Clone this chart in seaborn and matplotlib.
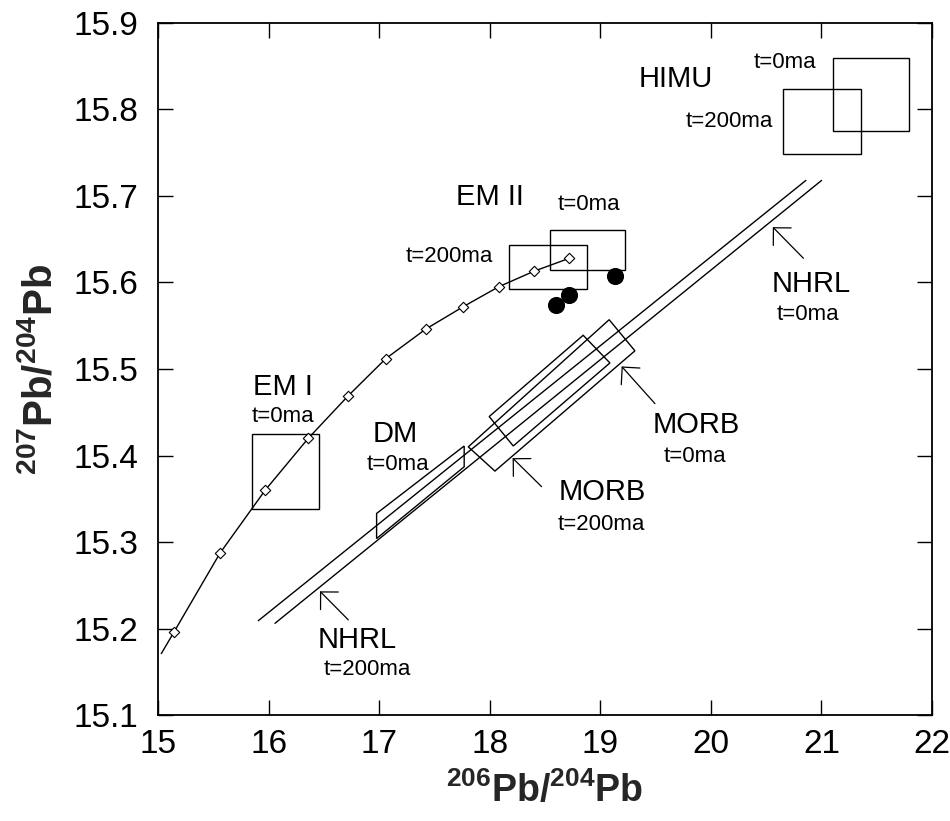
import matplotlib
matplotlib.use("Agg")
import matplotlib.pyplot as plt
import seaborn as sns
import numpy as np
import pandas as pd
from matplotlib.patches import Polygon

# ---------------- data ----------------
# mixing curve (line start + diamond markers)
curve_start_x = [15.03]
curve_start_y = [15.171]
marker_x = [15.145, 15.56, 15.97, 16.36, 16.72, 17.06, 17.42, 17.76, 18.08, 18.40, 18.72]
marker_y = [15.196, 15.287, 15.360, 15.420, 15.469, 15.512, 15.546, 15.572, 15.595, 15.613, 15.628]

# filled circles
dots_x = [18.60, 18.72, 19.13]
dots_y = [15.574, 15.585, 15.608]

# NHRL reference lines
nhrl0_x = [16.058, 21.001]
nhrl0_y = [15.206, 15.718]
nhrl200_x = [15.907, 20.859]
nhrl200_y = [15.209, 15.718]

# boxes: (x_min, x_max, y_min, y_max)
himu0 = [21.10, 21.79, 15.775, 15.859]
himu200 = [20.65, 21.36, 15.749, 15.824]
em2_0 = [18.544, 19.222, 15.615, 15.661]
em2_200 = [18.176, 18.881, 15.593, 15.643]
em1_0 = [15.847, 16.456, 15.338, 15.425]

# rotated fields (corner lists)
dm_x = [16.977, 17.769, 17.769, 16.977]
dm_y = [15.333, 15.411, 15.387, 15.304]
morbA_x = [17.995, 18.845, 19.087, 18.213]
morbA_y = [15.445, 15.539, 15.507, 15.411]
morbB_x = [17.806, 19.080, 19.313, 18.047]
morbB_y = [15.410, 15.557, 15.521, 15.382]

x_ticks = [15, 16, 17, 18, 19, 20, 21, 22]
y_ticks = [15.1, 15.2, 15.3, 15.4, 15.5, 15.6, 15.7, 15.8, 15.9]
y_tick_labels = ["15.1", "15.2", "15.3", "15.4", "15.5", "15.6", "15.7", "15.8", "15.9"]

# ---------------- style ----------------
sns.set_style("ticks")
plt.rcParams["font.family"] = ["Liberation Sans", "DejaVu Sans"]
plt.rcParams["mathtext.fontset"] = "custom"
plt.rcParams["mathtext.rm"] = "Liberation Sans"
plt.rcParams["mathtext.bf"] = "Liberation Sans:bold"

fig = plt.figure(figsize=(9.5, 8.21), dpi=100)
ax = fig.add_axes([0.1663, 0.1291, 0.8148, 0.8429])

K = "black"
LW = 1.0

# curve
cx = curve_start_x + marker_x
cy = curve_start_y + marker_y
sns.lineplot(x=cx, y=cy, ax=ax, color=K, lw=LW, sort=False, estimator=None)
sns.scatterplot(x=marker_x, y=marker_y, ax=ax, marker="D", s=28,
                facecolor="white", edgecolor=K, linewidth=0.8, zorder=3)

# filled dots
sns.scatterplot(x=dots_x, y=dots_y, ax=ax, s=130, color=K, edgecolor=K, zorder=3)

# NHRL lines
sns.lineplot(x=nhrl0_x, y=nhrl0_y, ax=ax, color=K, lw=LW, estimator=None)
sns.lineplot(x=nhrl200_x, y=nhrl200_y, ax=ax, color=K, lw=LW, estimator=None)

def box(b):
    x0, x1, y0, y1 = b
    ax.add_patch(Polygon([(x0, y0), (x1, y0), (x1, y1), (x0, y1)], closed=True,
                         fill=False, edgecolor=K, lw=LW))

for b in [himu0, himu200, em2_0, em2_200, em1_0]:
    box(b)

for px, py in [(dm_x, dm_y), (morbA_x, morbA_y), (morbB_x, morbB_y)]:
    ax.add_patch(Polygon(list(zip(px, py)), closed=True, fill=False, edgecolor=K, lw=LW))

# arrows
arrows = [
    ((20.837, 15.628), (20.560, 15.664)),
    ((16.721, 15.210), (16.465, 15.243)),
    ((18.469, 15.364), (18.207, 15.397)),
    ((19.494, 15.460), (19.193, 15.503)),
]
for tail, tip in arrows:
    ax.annotate("", xy=tip, xytext=tail,
                arrowprops=dict(arrowstyle="->,head_width=0.45,head_length=0.45",
                                color=K, lw=0.9, shrinkA=0, shrinkB=0,
                                mutation_scale=20))

# labels (placed by pixel baseline, converted to data coords)
def px2d(px, py):
    return 15 + (px - 158) / 110.6, 15.1 + (715 - py) / 865.0

big = 21
small = 16
texts = [
    ("HIMU", 676, 87, big, "center"),
    ("t=0ma", 785, 68, small, "center"),
    ("t=200ma", 773, 127, small, "right"),
    ("EM II", 490, 205, big, "center"),
    ("t=0ma", 589, 210, small, "center"),
    ("t=200ma", 493, 262, small, "right"),
    ("EM I", 283, 395, big, "center"),
    ("t=0ma", 283, 422, small, "center"),
    ("DM", 395, 442, big, "center"),
    ("t=0ma", 398, 470, small, "center"),
    ("MORB", 602, 500, big, "center"),
    ("t=200ma", 601, 530, small, "center"),
    ("MORB", 696, 433, big, "center"),
    ("t=0ma", 695, 462, small, "center"),
    ("NHRL", 811, 292, big, "center"),
    ("t=0ma", 808, 320, small, "center"),
    ("NHRL", 357, 648, big, "center"),
    ("t=200ma", 367, 675, small, "center"),
]
for s, px, py, fs, ha in texts:
    x, y = px2d(px, py)
    ax.text(x, y, s, fontsize=fs, ha=ha, va="baseline", color=K)

# axes
ax.set_xlim(15, 22)
ax.set_ylim(15.1, 15.9)
ax.set_xticks(x_ticks)
ax.set_xticklabels([str(t) for t in x_ticks])
ax.set_yticks(y_ticks)
ax.set_yticklabels(y_tick_labels)
ax.tick_params(direction="in", length=11, width=1.0, top=True, right=True,
               labelsize=24, pad=10, colors=K)
ax.tick_params(axis="y", pad=14)
for sp in ax.spines.values():
    sp.set_linewidth(1.3)
    sp.set_color(K)

ax.set_xlabel(r"$^{\mathbf{206}}\mathbf{Pb/}^{\mathbf{204}}\mathbf{Pb}$", fontsize=27, labelpad=8)
ax.set_ylabel(r"$^{\mathbf{207}}\mathbf{Pb/}^{\mathbf{204}}\mathbf{Pb}$", fontsize=29, labelpad=10)

fig.savefig("out.png", dpi=100)
